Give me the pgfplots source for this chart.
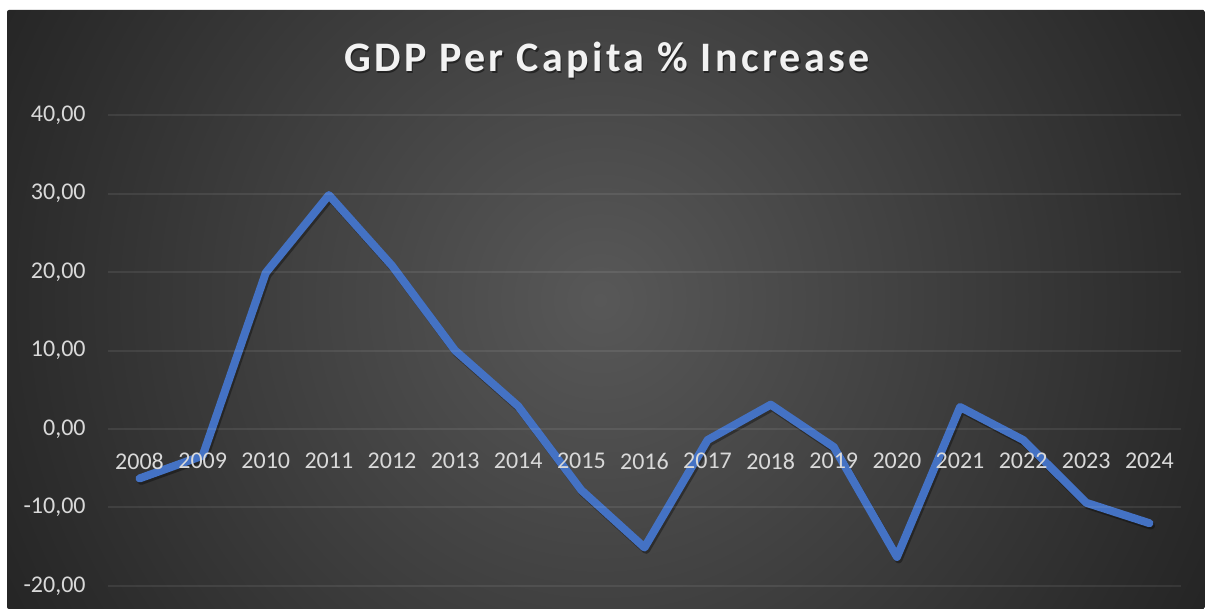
\documentclass[border=0pt]{standalone}
\usepackage{fontspec}
\setmainfont{Carlito}
\newfontfamily\titlefont[LetterSpace=8]{Carlito}
\usepackage{pgfplots}
\pgfplotsset{compat=1.18}
\definecolor{bgA}{HTML}{585858}
\definecolor{bgB}{HTML}{424242}
\definecolor{bgC}{HTML}{2B2B2B}
\definecolor{bgD}{HTML}{232323}
\definecolor{lineblue}{HTML}{4472C4}
\definecolor{ticktext}{HTML}{D9D9D9}
\pgfdeclareradialshading{bgshade}{\pgfpoint{0bp}{0bp}}{color(0bp)=(bgA); color(10.4bp)=(bgB); color(21.1bp)=(bgC); color(25bp)=(bgD); color(50bp)=(bgD)}
\begin{document}
\begin{tikzpicture}
\path[use as bounding box, fill=white] (0,0) rectangle (602.5pt,304.5pt);
\begin{scope}
\clip[rounded corners=1pt] (3.5pt,0pt) rectangle (602.5pt,299.5pt);
\shade[shading=bgshade] (300pt,154.5pt) circle (350pt);
\end{scope}
\node[font=\titlefont\fontsize{21}{25}\selectfont\bfseries, text=black, opacity=0.45, anchor=base] at (304.2pt,267.8pt) {GDP Per Capita \% Increase};
\node[font=\titlefont\fontsize{21}{25}\selectfont\bfseries, text=white!95!black, anchor=base] at (303.5pt,268.5pt) {GDP Per Capita \% Increase};
\begin{axis}[
  axis on top,
  scale only axis,
  width=536.5pt, height=235.5pt,
  anchor=south west, at={(54pt,11.5pt)},
  xmin=2007.5, xmax=2024.5,
  ymin=-20, ymax=40,
  axis x line=middle, axis y line=left,
  axis line style={draw=none},
  major tick length=0pt,
  xtick={2008,...,2024},
  xticklabels={2008,2009,2010,2011,2012,2013,2014,2015,2016,2017,2018,2019,2020,2021,2022,2023,2024},
  ytick={-20,-10,0,10,20,30,40},
  ymajorgrids,
  major grid style={white, opacity=0.08, line width=1pt},
  tick label style={font=\fontsize{12}{14}\selectfont, text=ticktext},
  /pgf/number format/assume math mode=true,
  yticklabel style={/pgf/number format/fixed, /pgf/number format/fixed zerofill, /pgf/number format/precision=2, /pgf/number format/use comma, inner sep=0pt, xshift=-11pt},
  xticklabel style={inner sep=0pt, yshift=-12pt},
  clip=false,
]
\addplot[black, opacity=0.35, line width=4pt, line cap=round, line join=round, xshift=0.8pt, yshift=-1.2pt] coordinates {
(2008,-6.3) (2009,-3.4) (2010,19.9) (2011,29.8) (2012,20.8) (2013,10.0) (2014,2.9) (2015,-7.8) (2016,-15.1) (2017,-1.4) (2018,3.1) (2019,-2.3) (2020,-16.3) (2021,2.8) (2022,-1.4) (2023,-9.4) (2024,-12.0)
};
\addplot[lineblue, line width=4pt, line cap=round, line join=round] coordinates {
(2008,-6.3) (2009,-3.4) (2010,19.9) (2011,29.8) (2012,20.8) (2013,10.0) (2014,2.9) (2015,-7.8) (2016,-15.1) (2017,-1.4) (2018,3.1) (2019,-2.3) (2020,-16.3) (2021,2.8) (2022,-1.4) (2023,-9.4) (2024,-12.0)
};
\end{axis}
\end{tikzpicture}
\end{document}
